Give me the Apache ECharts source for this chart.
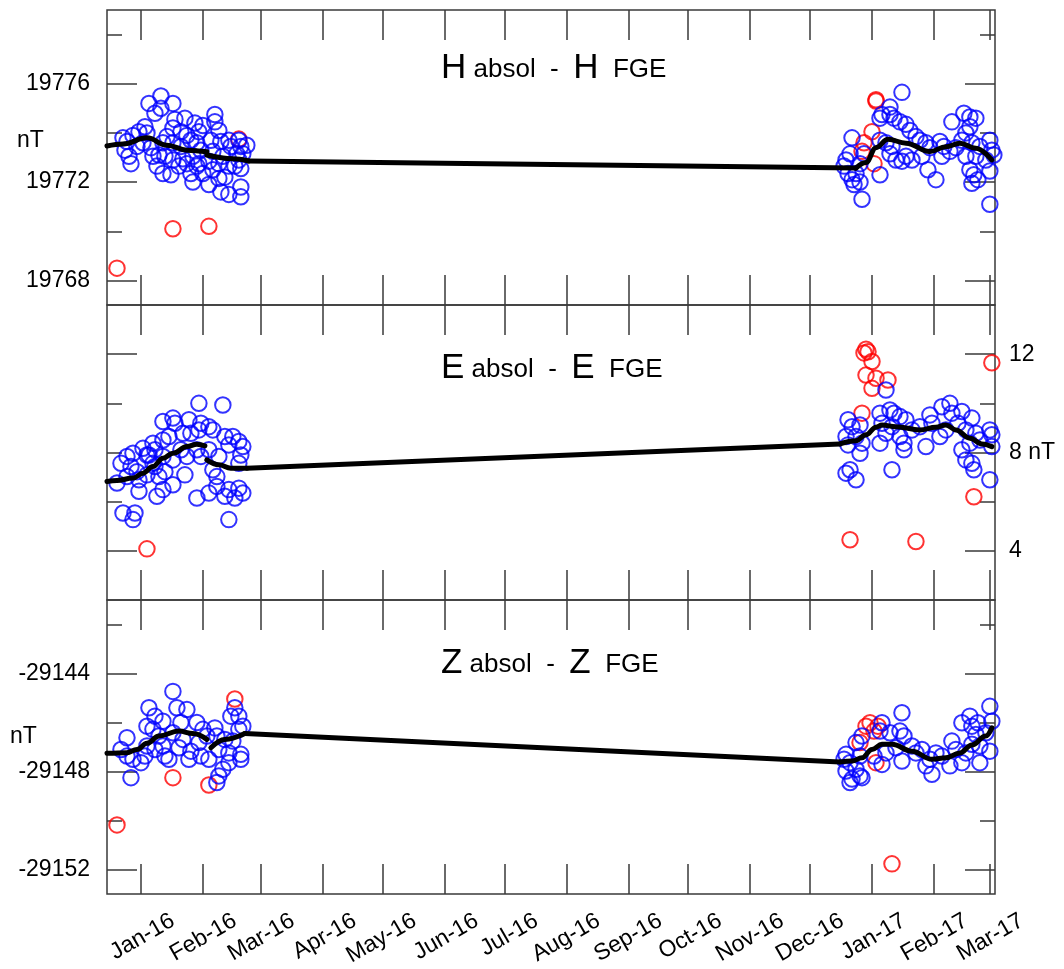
<!DOCTYPE html>
<html>
<head>
<meta charset="utf-8">
<script src="https://cdn.jsdelivr.net/npm/echarts@6/dist/echarts.min.js"></script>
<style>
html,body{margin:0;padding:0;background:#fff;}
#chart{width:1064px;height:969px;}
</style>
</head>
<body>
<div id="chart"></div>
<script>
// ---------------- DATA ----------------
const xRange = ['2015-12-15', '2017-03-03T14'];
const monthTicks = ['2016-01','2016-02','2016-03','2016-04','2016-05','2016-06','2016-07','2016-08','2016-09','2016-10','2016-11','2016-12','2017-01','2017-02','2017-03'];
const monthNames = ['Jan','Feb','Mar','Apr','May','Jun','Jul','Aug','Sep','Oct','Nov','Dec'];

const hRange = [19767, 19779];
const hLongTicks = [19768, 19772, 19776];
const hShortTicks = [19770, 19774, 19778];
const eRange = [2, 14];
const eLongTicksLeft = [4, 12];
const eShortTicksLeft = [6, 8, 10];
const eLongTicksRight = [4, 8, 12];
const eShortTicksRight = [6, 10];
const zRange = [-29153, -29141];
const zLongTicks = [-29152, -29148, -29144];
const zShortTicks = [-29150, -29146, -29142];

const hBlue = [
['2016-01-05',19775.2],['2016-01-11',19775.5],['2016-01-17',19775.2],['2016-01-08',19774.8],['2016-01-11',19775.0],
['2015-12-23',19773.8],['2015-12-25',19773.65],['2015-12-28',19773.9],['2015-12-31',19774.05],['2016-01-03',19774.25],['2016-01-04',19774.0],['2016-01-02',19773.6],['2015-12-30',19773.45],['2015-12-24',19773.3],['2015-12-26',19773.05],['2015-12-27',19772.75],['2016-01-06',19773.4],['2016-01-07',19773.05],
['2016-01-18',19774.55],['2016-01-23',19774.6],['2016-01-28',19774.4],['2016-01-17',19774.2],['2016-01-21',19774.05],['2016-01-24',19773.9],['2016-01-14',19773.85],['2016-01-12',19773.6],['2016-01-17',19773.6],['2016-01-21',19773.45],['2016-01-10',19773.1],['2016-01-13',19773.05],['2016-01-17',19772.9],['2016-01-22',19772.95],['2016-01-09',19772.65],['2016-01-12',19772.35],['2016-01-16',19772.3],['2016-01-20',19772.65],['2016-01-24',19772.75],
['2016-01-30',19774.05],['2016-02-01',19774.3],['2016-01-26',19773.7],['2016-01-29',19773.6],['2016-01-31',19773.3],['2016-01-27',19773.05],['2016-01-30',19772.75],['2016-01-26',19772.35],['2016-01-27',19772.0],['2016-02-01',19772.35],['2016-01-29',19772.65],
['2016-02-07',19774.75],['2016-02-07',19774.45],['2016-02-09',19774.1],['2016-02-05',19773.7],['2016-02-10',19773.65],['2016-02-14',19773.7],['2016-02-15',19773.45],['2016-02-06',19773.25],['2016-02-11',19773.05],['2016-02-04',19772.85],['2016-02-09',19772.75],['2016-02-14',19772.65],['2016-02-04',19771.9],['2016-02-09',19772.15],['2016-02-10',19771.6],['2016-02-14',19771.5],['2016-02-06',19772.5],['2016-02-12',19772.2],
['2016-02-19',19773.7],['2016-02-20',19773.45],['2016-02-18',19773.15],['2016-02-21',19773.15],['2016-02-19',19772.9],['2016-02-17',19772.65],['2016-02-20',19772.55],['2016-02-20',19771.8],['2016-02-20',19771.4],['2016-02-23',19773.5],
['2017-01-16',19775.65],['2017-01-10',19775.05],['2017-01-06',19774.75],['2017-01-05',19774.6],['2017-01-10',19774.75],['2017-01-12',19774.6],['2017-01-15',19774.45],['2017-01-18',19774.35],['2017-01-20',19774.1],
['2016-12-22',19773.8],['2016-12-21',19773.15],['2016-12-19',19772.9],['2016-12-18',19772.65],['2016-12-20',19772.35],['2016-12-22',19772.1],['2016-12-23',19771.9],['2016-12-26',19772.0],['2016-12-27',19771.3],['2016-12-24',19772.35],['2016-12-26',19772.75],['2016-12-28',19773.15],
['2017-01-05',19772.3],['2017-01-05',19773.7],['2017-01-08',19773.6],['2017-01-11',19773.45],['2017-01-10',19773.15],['2017-01-13',19772.9],['2017-01-16',19772.85],['2017-01-18',19773.05],['2017-01-21',19772.9],['2017-01-23',19773.85],['2017-01-25',19773.7],['2017-01-28',19773.6],['2017-01-30',19773.4],['2017-01-29',19772.5],['2017-02-02',19772.1],['2017-01-26',19773.05],['2017-02-04',19773.65],['2017-02-06',19773.45],['2017-02-05',19773.05],['2017-02-09',19773.25],
['2017-02-10',19774.45],['2017-02-16',19774.8],['2017-02-19',19774.65],['2017-02-22',19774.6],['2017-02-19',19774.25],['2017-02-17',19774.0],['2017-02-15',19773.7],['2017-02-12',19773.4],['2017-02-20',19773.6],['2017-02-24',19773.45],['2017-02-17',19773.05],['2017-02-22',19773.05],['2017-02-19',19772.5],['2017-02-21',19772.3],['2017-02-20',19771.95],['2017-02-23',19772.1],
['2017-03-01',19773.7],['2017-03-02',19773.3],['2017-03-03',19773.1],['2017-03-01',19772.45],['2017-03-01',19771.1],['2017-02-27',19772.9]
];
const hRed = [['2015-12-20',19768.5],['2016-01-17',19770.1],['2016-02-04',19770.2],['2016-02-19',19773.75],['2017-01-03',19775.35],['2017-01-03',19775.3],['2017-01-01',19774.05],['2016-12-28',19773.6],['2017-01-02',19772.75],['2016-12-27',19773.25]];
const hFitA = [['2015-12-15',19773.47],['2015-12-23',19773.55],['2016-01-04',19773.8],['2016-01-14',19773.5],['2016-01-24',19773.3],['2016-02-03',19773.23]];
const hFitB = [['2016-02-03',19773.1],['2016-02-16',19772.95],['2016-02-24',19772.86]];
const hFitC = [['2016-12-24',19772.57],['2016-12-29',19772.8],['2017-01-03',19773.4],['2017-01-09',19773.74],['2017-01-18',19773.58],['2017-01-30',19773.24],['2017-02-07',19773.44],['2017-02-14',19773.58],['2017-02-22',19773.38],['2017-03-02',19772.9]];

const eBlue = [
['2016-01-30',10.0],['2016-02-11',9.93],['2016-01-12',9.26],['2016-01-17',9.4],['2016-01-18',9.19],['2016-01-25',9.33],['2016-01-31',9.19],['2016-02-04',9.05],['2016-02-06',8.92],['2016-01-30',8.92],['2016-01-26',8.78],['2016-01-22',8.78],['2016-01-15',8.65],['2016-01-12',8.51],['2016-01-07',8.38],['2016-01-02',8.17],['2015-12-28',7.97],['2015-12-25',7.84],['2015-12-22',7.56],['2015-12-27',7.43],['2015-12-20',6.76],['2015-12-25',7.02],['2015-12-30',7.22],['2015-12-31',6.89],['2015-12-31',6.42],['2016-01-04',7.09],['2016-01-05',7.9],['2016-01-08',8.11],['2016-01-12',7.84],['2016-01-08',7.43],['2016-01-10',7.02],['2016-01-09',6.22],['2016-01-12',6.49],['2016-01-17',6.69],['2016-01-13',7.22],['2016-01-17',7.7],['2016-01-21',8.11],['2016-01-23',7.09],['2016-01-24',7.84],['2016-01-29',8.11],['2016-01-31',7.84],['2016-01-29',6.15],['2016-02-04',6.35],['2016-02-06',7.3],['2016-02-08',7.02],['2016-02-09',7.84],['2016-02-12',8.65],['2016-02-16',8.65],['2016-02-14',8.31],['2016-02-19',8.45],['2016-02-21',8.24],['2016-02-20',7.9],['2016-02-19',7.56],['2016-02-14',6.49],['2016-02-17',6.15],['2016-02-21',6.35],['2016-02-19',6.55],['2016-02-12',6.22],['2016-02-14',5.27],['2015-12-23',5.54],['2015-12-29',5.54],['2015-12-28',5.27],['2016-02-08',6.62],['2016-02-04',8.11],['2016-01-07',7.56],['2016-01-04',7.9],
['2017-01-08',10.54],['2016-12-20',9.33],['2016-12-22',9.05],['2016-12-26',9.12],['2016-12-19',8.65],['2016-12-24',8.65],['2016-12-20',8.31],['2016-12-26',7.97],['2016-12-27',8.38],['2016-12-21',7.3],['2016-12-19',7.16],['2016-12-24',6.89],['2017-01-05',9.6],['2017-01-10',9.73],['2017-01-12',9.6],['2017-01-15',9.46],['2017-01-18',9.33],['2017-01-06',9.19],['2017-01-11',9.05],['2017-01-05',8.38],['2017-01-08',8.78],['2017-01-15',8.65],['2017-01-17',8.38],['2017-01-17',8.11],['2017-01-21',8.92],['2017-01-25',9.05],['2017-01-30',9.53],['2017-01-31',9.19],['2017-01-28',8.24],['2017-02-04',8.65],['2017-02-05',9.86],['2017-02-09',10.0],['2017-02-10',9.6],['2017-02-15',9.67],['2017-02-20',9.4],['2017-02-13',9.19],['2017-02-07',8.92],['2017-02-17',8.92],['2017-02-22',8.78],['2017-02-24',8.51],['2017-02-19',8.38],['2017-02-15',8.11],['2017-02-17',7.7],['2017-02-20',7.56],['2017-02-21',7.3],['2017-03-01',8.92],['2017-03-02',8.72],['2017-03-02',8.24],['2017-03-01',6.89],['2017-01-11',7.3]
];
const eRed = [['2016-01-04',4.08],['2016-12-29',12.2],['2016-12-28',12.05],['2016-12-30',12.1],['2017-01-01',11.7],['2016-12-29',11.15],['2017-01-03',11.02],['2017-01-01',10.61],['2017-01-09',10.95],['2016-12-27',9.6],['2017-03-02',11.65],['2017-02-21',6.2],['2016-12-21',4.45],['2017-01-23',4.38]];
const eFitA = [['2015-12-15',6.82],['2015-12-20',6.86],['2015-12-28',6.96],['2016-01-02',7.16],['2016-01-07',7.43],['2016-01-12',7.77],['2016-01-17',7.97],['2016-01-24',8.24],['2016-01-29',8.34],['2016-02-02',8.27]];
const eFitB = [['2016-02-03',7.7],['2016-02-09',7.5],['2016-02-15',7.36],['2016-02-23',7.36]];
const eFitC = [['2016-12-16',8.35],['2016-12-24',8.48],['2016-12-29',8.72],['2017-01-03',9.03],['2017-01-06',9.12],['2017-01-13',9.05],['2017-01-25',8.92],['2017-02-02',9.03],['2017-02-07',9.12],['2017-02-12',8.92],['2017-02-19',8.58],['2017-02-25',8.35],['2017-03-02',8.24]];

const zBlue = [
['2015-12-25',-29146.62],['2015-12-22',-29147.1],['2015-12-25',-29147.37],['2015-12-28',-29147.5],['2015-12-27',-29148.25],['2016-01-01',-29147.64],['2016-01-03',-29147.37],['2016-01-04',-29146.96],['2016-01-05',-29145.4],['2016-01-08',-29145.74],['2016-01-12',-29145.95],['2016-01-07',-29146.28],['2016-01-10',-29146.55],['2016-01-08',-29147.1],['2016-01-12',-29146.96],['2016-01-15',-29147.5],['2016-01-17',-29146.42],['2016-01-17',-29144.73],['2016-01-19',-29145.4],['2016-01-24',-29145.47],['2016-01-21',-29146.0],['2016-01-22',-29146.69],['2016-01-26',-29147.17],['2016-01-25',-29147.5],['2016-01-29',-29146.0],['2016-02-01',-29146.28],['2016-01-30',-29146.82],['2016-01-31',-29147.37],['2016-02-04',-29147.5],['2016-02-07',-29146.22],['2016-02-08',-29146.55],['2016-02-09',-29147.1],['2016-02-12',-29146.69],['2016-02-14',-29147.24],['2016-02-14',-29147.64],['2016-02-11',-29147.91],['2016-02-09',-29148.18],['2016-02-08',-29148.45],['2016-02-15',-29145.74],['2016-02-17',-29145.4],['2016-02-19',-29145.74],['2016-02-21',-29146.15],['2016-02-19',-29146.28],['2016-02-16',-29146.76],['2016-02-20',-29147.3],['2016-02-20',-29147.5],['2016-01-13',-29147.37],['2016-01-20',-29147.03],['2016-02-03',-29146.55],['2016-01-04',-29146.15],
['2017-01-16',-29145.6],['2017-01-06',-29146.01],['2017-01-05',-29146.35],['2017-01-10',-29146.42],['2017-01-15',-29146.35],['2017-01-17',-29146.55],['2016-12-27',-29146.55],['2016-12-24',-29146.82],['2016-12-19',-29147.3],['2016-12-18',-29147.5],['2016-12-21',-29147.64],['2016-12-19',-29147.98],['2016-12-22',-29148.31],['2016-12-21',-29148.45],['2016-12-26',-29148.18],['2016-12-27',-29148.25],['2016-12-24',-29147.91],['2016-12-26',-29147.37],['2017-01-06',-29147.71],['2017-01-08',-29147.24],['2017-01-13',-29147.03],['2017-01-16',-29147.57],['2017-01-21',-29146.96],['2017-01-23',-29147.24],['2017-01-26',-29147.1],['2017-01-28',-29147.77],['2017-01-31',-29148.11],['2017-01-30',-29147.5],['2017-02-02',-29147.24],['2017-02-05',-29147.37],['2017-02-09',-29147.77],['2017-02-10',-29146.76],['2017-02-12',-29147.1],['2017-02-15',-29147.64],['2017-02-15',-29146.01],['2017-02-19',-29145.74],['2017-02-20',-29146.15],['2017-02-22',-29146.49],['2017-02-20',-29146.89],['2017-02-17',-29147.24],['2017-02-24',-29147.64],['2017-02-24',-29146.96],['2017-02-23',-29146.01],['2017-03-01',-29145.34],['2017-03-02',-29145.95],['2017-03-01',-29147.17],['2017-02-27',-29146.42],['2017-01-02',-29147.37]
];
const zRed = [['2015-12-20',-29150.18],['2016-01-17',-29148.25],['2016-02-04',-29148.55],['2016-02-17',-29145.04],['2016-12-29',-29146.15],['2016-12-31',-29146.01],['2017-01-04',-29146.15],['2016-12-26',-29146.82],['2017-01-02',-29146.35],['2017-01-03',-29147.64],['2017-01-11',-29151.77]];
const zFitA = [['2015-12-15',-29147.26],['2015-12-25',-29147.23],['2015-12-30',-29147.1],['2016-01-04',-29146.85],['2016-01-10',-29146.55],['2016-01-20',-29146.35],['2016-01-27',-29146.45],['2016-02-03',-29146.69]];
const zFitB = [['2016-02-05',-29147.03],['2016-02-12',-29146.69],['2016-02-22',-29146.45]];
const zFitC = [['2016-12-16',-29147.61],['2016-12-22',-29147.57],['2016-12-27',-29147.44],['2017-01-01',-29147.1],['2017-01-06',-29146.89],['2017-01-11',-29146.89],['2017-01-21',-29147.17],['2017-01-31',-29147.5],['2017-02-07',-29147.44],['2017-02-14',-29147.24],['2017-02-20',-29146.92],['2017-02-27',-29146.55],['2017-03-02',-29146.22]];

// ---------------- HELPERS ----------------
function ts(s) {
  const [datePart, hourPart] = s.split('T');
  const p = datePart.split('-').map(Number);
  return Date.UTC(p[0], p[1] - 1, p[2] || 1, hourPart ? Number(hourPart) : 0);
}
const toXY = arr => arr.map(d => [ts(d[0]), d[1]]);
const X_MIN = ts(xRange[0]), X_MAX = ts(xRange[1]);
const monthTs = monthTicks.map(ts);
const FONT = '"Liberation Sans", Arial, sans-serif';
const tickLine = { color: '#3a3a3a', width: 1.5 };

const chart = echarts.init(document.getElementById('chart'), null, { renderer: 'canvas' });

const grids = [
  { left: 107, width: 888, top: 10, height: 295 },
  { left: 107, width: 888, top: 305, height: 295 },
  { left: 107, width: 888, top: 600, height: 294 }
].map(g => Object.assign(g, { show: true, borderColor: '#3a3a3a', borderWidth: 1.5, backgroundColor: 'transparent', containLabel: false }));
// label-only grid, shifted so month labels sit mid-month
grids.push({ left: 139, width: 888, top: 600, height: 294, show: false });

const xAxes = [];
[0, 1, 2].forEach(g => {
  ['bottom', 'top'].forEach(pos => {
    xAxes.push({
      gridIndex: g, type: 'value', min: X_MIN, max: X_MAX, position: pos,
      axisLine: { show: false }, splitLine: { show: false },
      axisLabel: { show: false },
      axisTick: { show: true, inside: true, length: 30, customValues: monthTs, lineStyle: tickLine }
    });
  });
});
xAxes.push({
  gridIndex: 3, type: 'value', min: X_MIN, max: X_MAX, position: 'bottom',
  axisLine: { show: false }, splitLine: { show: false }, axisTick: { show: false },
  axisLabel: {
    show: true, customValues: monthTs, rotate: 30, margin: 31,
    fontSize: 23, fontFamily: FONT, color: '#000',
    formatter: v => { const d = new Date(v); return monthNames[d.getUTCMonth()] + '-' + String(d.getUTCFullYear()).slice(2); }
  }
});

function yAx(g, range, pos, ticks, len, labelVals, fmt) {
  return {
    gridIndex: g, type: 'value', min: range[0], max: range[1], position: pos,
    axisLine: { show: false }, splitLine: { show: false },
    axisTick: { show: true, inside: true, length: len, customValues: ticks, lineStyle: tickLine },
    axisLabel: labelVals ? {
      show: true, customValues: labelVals, margin: pos === 'left' ? 17 : 14,
      fontSize: 23, fontFamily: FONT, color: '#000', formatter: fmt || (v => String(v))
    } : { show: false }
  };
}
const yAxes = [
  yAx(0, hRange, 'left', hLongTicks, 30, hLongTicks),
  yAx(0, hRange, 'left', hShortTicks, 15, null),
  yAx(0, hRange, 'right', hLongTicks, 30, null),
  yAx(0, hRange, 'right', hShortTicks, 15, null),
  yAx(1, eRange, 'left', eLongTicksLeft, 30, null),
  yAx(1, eRange, 'left', eShortTicksLeft, 15, null),
  yAx(1, eRange, 'right', eLongTicksRight, 30, eLongTicksRight, v => v === 8 ? '8 nT' : String(v)),
  yAx(1, eRange, 'right', eShortTicksRight, 15, null),
  yAx(2, zRange, 'left', zLongTicks, 30, zLongTicks),
  yAx(2, zRange, 'left', zShortTicks, 15, null),
  yAx(2, zRange, 'right', zLongTicks, 30, null),
  yAx(2, zRange, 'right', zShortTicks, 15, null),
  { gridIndex: 3, type: 'value', show: false, min: 0, max: 1 }
];

function scatter(g, data, color) {
  return {
    type: 'scatter', xAxisIndex: g * 2, yAxisIndex: g * 4, data: toXY(data),
    symbol: 'circle', symbolSize: 15.5, silent: true,
    itemStyle: { color: 'rgba(0,0,0,0)', borderColor: color, borderWidth: 2 }
  };
}
function fitLine(g, data, smooth) {
  return {
    type: 'line', xAxisIndex: g * 2, yAxisIndex: g * 4, data: toXY(data),
    symbol: 'none', smooth: smooth ? 0.4 : false, smoothMonotone: 'x', silent: true,
    lineStyle: { color: '#000', width: 5, cap: 'round', join: 'round' }, z: 5
  };
}

const panels = [
  [hRed, hBlue, hFitA, hFitB, hFitC],
  [eRed, eBlue, eFitA, eFitB, eFitC],
  [zRed, zBlue, zFitA, zFitB, zFitC]
];
const series = [];
panels.forEach((p, g) => {
  series.push(scatter(g, p[0], '#ff0000'));
  series.push(scatter(g, p[1], '#0000ff'));
  series.push(fitLine(g, p[2], true));
  series.push(fitLine(g, p[3], true));
  series.push(fitLine(g, [p[3][p[3].length - 1], p[4][0]], false)); // straight bridge across the data gap
  series.push(fitLine(g, p[4], true));
});

const richStyle = {
  b: { fontSize: 35, fontFamily: FONT, fontWeight: 'normal', color: '#000', verticalAlign: 'bottom', lineHeight: 36 },
  s: { fontSize: 26, fontFamily: FONT, fontWeight: 'normal', color: '#000', verticalAlign: 'bottom', lineHeight: 30, padding: [0, 0, 3, 0] }
};
function ttl(letter, top) {
  return {
    text: '{b|' + letter + '}{s| absol  -  }{b|' + letter + '}{s|  FGE}',
    left: 441, top: top, padding: 0,
    textStyle: { fontWeight: 'normal', rich: richStyle }
  };
}

chart.setOption({
  animation: false,
  backgroundColor: '#fff',
  title: [ttl('H', 50), ttl('E', 350), ttl('Z', 645)],
  grid: grids,
  xAxis: xAxes,
  yAxis: yAxes,
  series: series,
  graphic: [
    { type: 'text', left: 17, top: 129, style: { text: 'nT', fontSize: 23, fontFamily: FONT, fill: '#000' } },
    { type: 'text', left: 10, top: 725, style: { text: 'nT', fontSize: 23, fontFamily: FONT, fill: '#000' } }
  ]
});
</script>
</body>
</html>
